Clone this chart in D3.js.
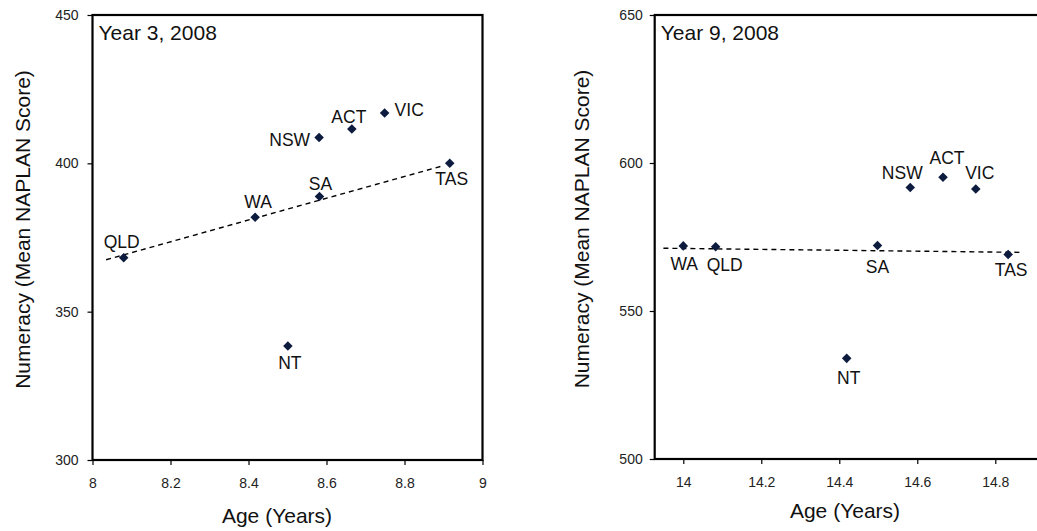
<!DOCTYPE html>
<html>
<head>
<meta charset="utf-8">
<script src="https://cdn.jsdelivr.net/npm/d3@7"></script>
<style>
  html, body { margin: 0; padding: 0; background: #fff; }
  svg { display: block; font-family: "Liberation Sans", Arial, sans-serif; }
</style>
</head>
<body>
<svg id="chart" width="1037" height="531"></svg>
<script>
// Mean NAPLAN numeracy score against mean student age, by state, 2008
const states = ["QLD", "WA", "SA", "NSW", "ACT", "VIC", "TAS", "NT"];

const year3Age   = [8.08, 8.417, 8.582, 8.581, 8.665, 8.749, 8.916, 8.501];
const year3Score = [368.2, 381.8, 388.8, 408.7, 411.6, 417.0, 400.0, 338.4];
const year3Trend = [[8.035, 367.5], [8.899, 399.2]];

const year9Age   = [14.083, 14.0, 14.498, 14.582, 14.666, 14.75, 14.833, 14.419];
const year9Score = [571.7, 572.0, 572.1, 591.7, 595.2, 591.2, 569.1, 534.0];
const year9Trend = [[13.949, 571.2], [14.872, 569.8]];

const year3XTicks = [8, 8.2, 8.4, 8.6, 8.8, 9];
const year3YTicks = [300, 350, 400, 450];
const year9XTicks = [14, 14.2, 14.4, 14.6, 14.8];
const year9YTicks = [500, 550, 600, 650];

// label placement around each marker: [dx, dy, anchor]
const year3Labels = {
  QLD: [-2, -10, "middle"], WA: [3, -9, "middle"], SA: [1, -7, "middle"],
  NSW: [-9, 8, "end"], ACT: [-3, -6, "middle"], VIC: [10, 3, "start"],
  TAS: [2, 22, "middle"], NT: [2, 23, "middle"]
};
const year9Labels = {
  QLD: [9, 24, "middle"], WA: [1, 24, "middle"], SA: [0, 27, "middle"],
  NSW: [-8, -9, "middle"], ACT: [4, -13, "middle"], VIC: [4, -10, "middle"],
  TAS: [3, 22, "middle"], NT: [2, 26, "middle"]
};

const svg = d3.select("#chart");
const markerColor = "#0d1b3e";

function panel(opt) {
  const x = d3.scaleLinear().domain(opt.xDomain).range([opt.left, opt.left + opt.width]);
  const y = d3.scaleLinear().domain(opt.yDomain).range([opt.top + opt.height, opt.top]);
  const g = svg.append("g");

  // y axis
  const ya = g.append("g")
    .attr("transform", `translate(${opt.left},0)`)
    .call(d3.axisLeft(y).tickValues(opt.yTicks).tickSize(5).tickPadding(opt.yPad).tickFormat(d3.format("d")));
  ya.select(".domain").remove();
  ya.selectAll(".tick line").attr("stroke", "#000").attr("stroke-width", 1.2);
  ya.selectAll(".tick text").attr("font-size", 14).attr("fill", "#222")
    .attr("font-family", "'Liberation Sans', Arial, sans-serif");

  // x axis
  const xa = g.append("g")
    .attr("transform", `translate(0,${opt.top + opt.height})`)
    .call(d3.axisBottom(x).tickValues(opt.xTicks).tickSize(5).tickPadding(13).tickFormat(d => String(d)));
  xa.select(".domain").remove();
  xa.selectAll(".tick line").attr("stroke", "#000").attr("stroke-width", 1.2);
  xa.selectAll(".tick text").attr("font-size", 14).attr("fill", "#222")
    .attr("font-family", "'Liberation Sans', Arial, sans-serif");

  // plot frame
  g.append("rect")
    .attr("x", opt.left).attr("y", opt.top)
    .attr("width", opt.width).attr("height", opt.height)
    .attr("fill", "none").attr("stroke", "#000").attr("stroke-width", 2.2);

  // trend line
  g.append("path")
    .datum(opt.trend)
    .attr("d", d3.line().x(d => x(d[0])).y(d => y(d[1])))
    .attr("fill", "none").attr("stroke", "#000")
    .attr("stroke-width", 1.4).attr("stroke-dasharray", "5,4");

  const pts = states.map((s, i) => ({ s, a: opt.ages[i], v: opt.scores[i] }));

  // markers
  g.selectAll("path.pt").data(pts).join("path")
    .attr("class", "pt")
    .attr("d", d3.symbol().type(d3.symbolDiamond2).size(58))
    .attr("transform", d => `translate(${x(d.a)},${y(d.v)})`)
    .attr("fill", markerColor);

  // state labels
  g.selectAll("text.lab").data(pts).join("text")
    .attr("class", "lab")
    .attr("x", d => x(d.a) + opt.labels[d.s][0])
    .attr("y", d => y(d.v) + opt.labels[d.s][1])
    .attr("text-anchor", d => opt.labels[d.s][2])
    .attr("font-size", 17.5).attr("fill", "#111")
    .text(d => d.s);

  // panel title
  g.append("text")
    .attr("x", opt.left + 6).attr("y", opt.top + 25)
    .attr("font-size", 21).attr("fill", "#111")
    .text(opt.title);

  // axis titles
  g.append("text")
    .attr("x", opt.xTitleX).attr("y", opt.xTitleY)
    .attr("text-anchor", "middle").attr("font-size", 21).attr("fill", "#111")
    .text("Age (Years)");
  g.append("text")
    .attr("transform", `translate(${opt.yTitleX},${opt.top + opt.height / 2 - 8}) rotate(-90)`)
    .attr("text-anchor", "middle").attr("font-size", 21).attr("fill", "#111")
    .text("Numeracy (Mean NAPLAN Score)");
}

panel({
  left: 92.5, top: 15, width: 390, height: 445,
  xDomain: [8, 9], yDomain: [300, 450],
  xTicks: year3XTicks, yTicks: year3YTicks, yPad: 9,
  ages: year3Age, scores: year3Score, trend: year3Trend,
  labels: year3Labels, title: "Year 3, 2008",
  xTitleX: 277, xTitleY: 523, yTitleX: 30
});

panel({
  left: 654.7, top: 15, width: 390, height: 444,
  xDomain: [13.9267, 14.9267], yDomain: [500, 650],
  xTicks: year9XTicks, yTicks: year9YTicks, yPad: 7,
  ages: year9Age, scores: year9Score, trend: year9Trend,
  labels: year9Labels, title: "Year 9, 2008",
  xTitleX: 845, xTitleY: 518, yTitleX: 589
});
</script>
</body>
</html>
